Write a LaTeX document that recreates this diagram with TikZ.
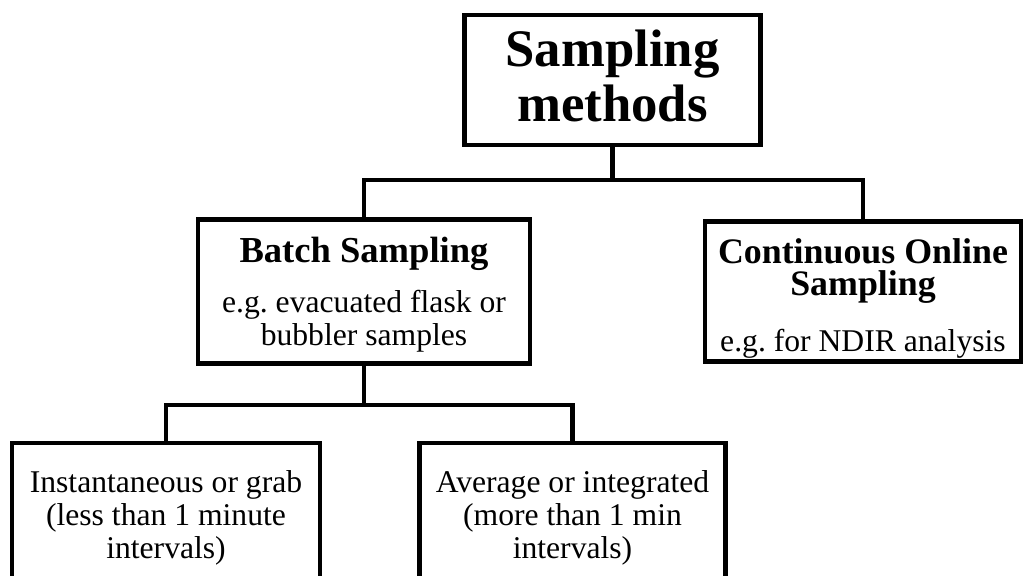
\documentclass[tikz,border=0pt]{standalone}
\usepackage{fontspec}
\setmainfont{Liberation Serif}
\frenchspacing
\newcommand\boxstrut[1]{\rule{0pt}{#1}}

\begin{document}
\begin{tikzpicture}[x=0.025cm, y=-0.025cm, line width=3pt,
    box/.style={draw, line width=3pt, align=center, inner sep=0pt,
                font=\fontsize{22.5}{23.5}\selectfont},
    heading/.style={font=\bfseries\fontsize{37.5}{39}\selectfont}]
  \useasboundingbox (0,0) rectangle (1025,576);

  \node[box, heading, minimum width=7.4cm, minimum height=3.25cm]
       (methods) at (612.5,80) {Sampling\\methods\rule[-6pt]{0pt}{0pt}};

  \node[box, minimum width=8.3cm, minimum height=3.6cm] (batch) at (364,291.5)
       {{\bfseries\fontsize{26}{28}\selectfont\boxstrut{22pt}Batch Sampling}\\[12pt]
        e.g. evacuated flask or\\bubbler samples};
  \node[box, minimum width=7.9cm, minimum height=3.5cm] (online) at (863,291.5)
       {{\bfseries\fontsize{25.5}{24}\selectfont\boxstrut{27.5pt}Continuous Online}\\[-0.5pt]
        {\bfseries\fontsize{25.5}{24}\selectfont Sampling}\\[16pt]
        e.g. for NDIR analysis};

  \node[box, minimum width=7.7cm, minimum height=3.75cm] (grab) at (166,518)
       {Instantaneous or grab\\(less than 1 minute\\intervals)};
  \node[box, minimum width=7.65cm, minimum height=3.75cm] (integrated) at (572.5,518)
       {Average or integrated\\(more than 1 min\\intervals)};

  \coordinate (upper) at (612.5,180);
  \coordinate (lower) at (364,405);

  \draw (methods.south) -- (upper);
  \draw (batch.north) |- (upper) -| (online.north);
  \draw (batch.south) -- (lower);
  \draw (grab.north) |- (lower) -| (integrated.north);
\end{tikzpicture}
\end{document}
